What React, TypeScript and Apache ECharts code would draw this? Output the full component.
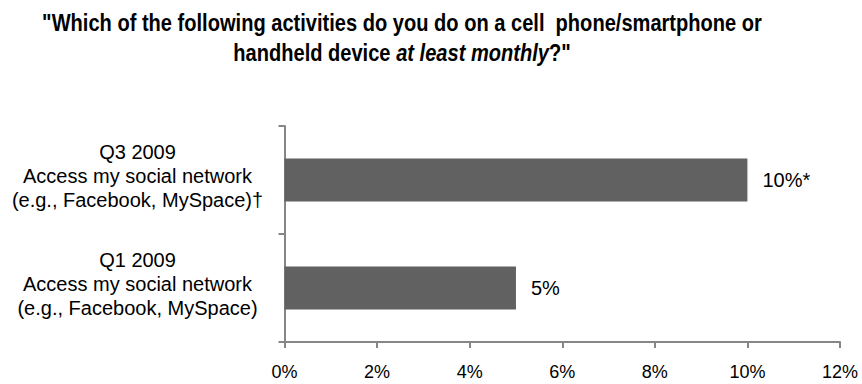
import React, { useEffect, useRef } from "react";
import * as echarts from "echarts";

const categories = [
  "Q1 2009\nAccess my social network\n(e.g., Facebook, MySpace)",
  "Q3 2009\nAccess my social network\n(e.g., Facebook, MySpace)†",
];
const values = [5, 10];
const valueLabels = ["5%", "10%*"];
const xTicks = [0, 2, 4, 6, 8, 10, 12];
const titleLine1 = '"Which of the following activities do you do on a cell  phone/smartphone or';
const titleLine2a = "handheld device ";
const titleLine2b = "at least monthly";
const titleLine2c = '?"';

const FONT = "'Liberation Sans', Arial, sans-serif";

export default function App() {
  const ref = useRef<HTMLDivElement>(null);
  useEffect(() => {
    if (!ref.current) return;
    const chart = echarts.init(ref.current, null, { renderer: "svg" });
    chart.setOption({
      animation: false,
      graphic: [
        {
          type: "text",
          x: 402,
          y: 8,
          scaleX: 0.873,
          style: {
            text: `{b|${titleLine1}}\n{b|${titleLine2a}}{i|${titleLine2b}}{b|${titleLine2c}}`,
            align: "center",
            rich: {
              b: { fontFamily: FONT, fontWeight: "bold", fontSize: 23, fill: "#000", lineHeight: 30 },
              i: { fontFamily: FONT, fontWeight: "bold", fontStyle: "italic", fontSize: 23, fill: "#000", lineHeight: 30 },
            },
          },
        },
      ],
      grid: { left: 284.5, right: 22, top: 126, bottom: 42, containLabel: false },
      xAxis: {
        type: "value",
        min: 0,
        max: 12,
        interval: 2,
        axisLine: { show: true, lineStyle: { color: "#868686", width: 2 } },
        axisTick: { show: true, length: 6, lineStyle: { color: "#868686", width: 2 } },
        splitLine: { show: false },
        axisLabel: {
          margin: 21,
          fontFamily: FONT,
          fontSize: 18,
          color: "#000",
          formatter: (v: number) => (xTicks.includes(v) ? v + "%" : ""),
        },
      },
      yAxis: {
        type: "category",
        data: categories,
        axisLine: { show: true, lineStyle: { color: "#868686", width: 2 } },
        axisTick: { show: true, length: 6, lineStyle: { color: "#868686", width: 2 } },
        axisLabel: {
          margin: 147,
          align: "center",
          formatter: (v: string) =>
            v
              .split("\n")
              .map((l) => `{a|${l}}`)
              .join("\n") + "\n{s| }",
          rich: {
            a: { fontFamily: FONT, fontSize: 20, lineHeight: 24, color: "#000", align: "center" },
            s: { fontFamily: FONT, fontSize: 4, lineHeight: 8, color: "#000", align: "center" },
          },
        },
      },
      series: [
        {
          type: "bar",
          data: values,
          barWidth: "40%",
          itemStyle: { color: "#616161" },
          label: {
            show: true,
            position: "right",
            distance: 15,
            fontFamily: FONT,
            fontSize: 20,
            color: "#000",
            formatter: (p: any) => valueLabels[p.dataIndex],
          },
        },
      ],
    });
    return () => chart.dispose();
  }, []);
  return <div ref={ref} style={{ width: 862, height: 384, position: "absolute", left: 0, top: 0 }} />;
}
